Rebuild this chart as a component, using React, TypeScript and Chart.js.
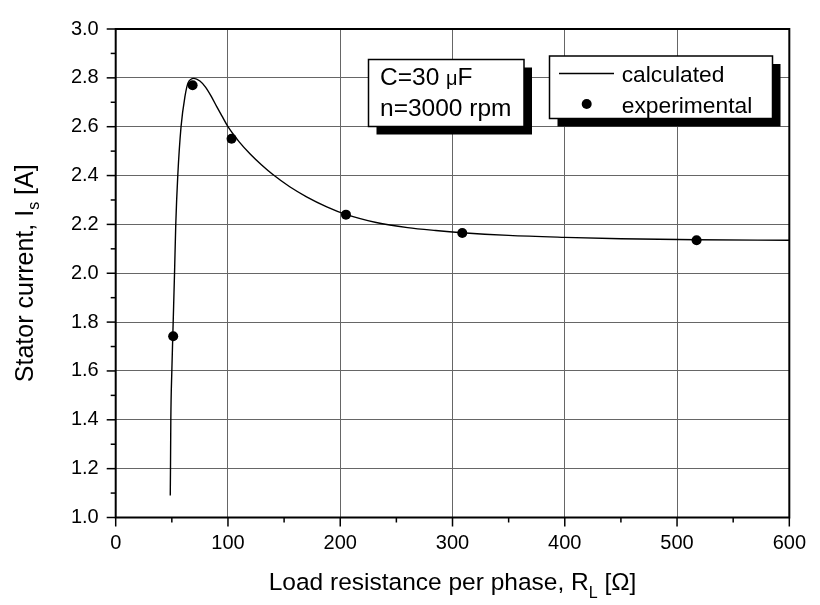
import React, { useEffect, useRef } from "react";
import { Chart, registerables } from "chart.js";

Chart.register(...registerables);

// ---- data ----
const calcR = [48.6, 48.8, 49.1, 50.0, 51.2, 52.4, 53.5, 55.3, 58.2, 61.7, 64.6, 69.7, 75, 80, 85, 90, 95, 100, 110, 120, 130, 140, 155, 170, 188, 205, 232, 260, 285, 308.5, 350, 400, 450, 518, 600];
const calcI = [1.09, 1.2, 1.4, 1.6, 1.8, 2.0, 2.2, 2.4, 2.6, 2.724, 2.781, 2.798, 2.787, 2.762, 2.725, 2.682, 2.641, 2.6, 2.538, 2.487, 2.443, 2.404, 2.354, 2.313, 2.272, 2.241, 2.208, 2.187, 2.175, 2.166, 2.155, 2.147, 2.141, 2.137, 2.135];
const expR = [51.2, 68.5, 103.2, 205.1, 308.7, 517.4];
const expI = [1.742, 2.77, 2.551, 2.24, 2.165, 2.135];
const legendLabels = ["calculated", "experimental"];
const noteLine1 = ["C=30 ", "\u03bc", "F"];
const noteLine2 = "n=3000 rpm";
const xTitleParts = ["Load resistance per phase, R", "L", " [\u03a9]"];
const yTitleParts = ["Stator current, I", "s", " [A]"];
const xMin = 0, xMax = 600, xStep = 100, xMinor = 50;
const yMin = 1.0, yMax = 3.0, yStep = 0.2, yMinor = 0.1;

const FONT = '"Liberation Sans", Arial, Helvetica, sans-serif';

type Run = { t: string; size: number; dy: number };

function drawRuns(ctx: CanvasRenderingContext2D, runs: Run[], x: number, y: number, align: "left" | "center") {
  let total = 0;
  const widths = runs.map((r) => {
    ctx.font = `${r.size}px ${FONT}`;
    const w = ctx.measureText(r.t).width;
    total += w;
    return w;
  });
  let cx = align === "center" ? x - total / 2 : x;
  ctx.textAlign = "left";
  ctx.textBaseline = "alphabetic";
  runs.forEach((r, i) => {
    ctx.font = `${r.size}px ${FONT}`;
    ctx.fillText(r.t, cx, y + r.dy);
    cx += widths[i];
  });
}

function shadowBox(ctx: CanvasRenderingContext2D, l: number, t: number, r: number, b: number) {
  ctx.fillStyle = "#000";
  ctx.fillRect(l + 8, t + 8, r - l, b - t);
  ctx.fillStyle = "#fff";
  ctx.fillRect(l, t, r - l, b - t);
  ctx.strokeStyle = "#000";
  ctx.lineWidth = 1.5;
  ctx.strokeRect(l, t, r - l, b - t);
}

const decorPlugin = {
  id: "decor",
  afterDraw(chart: any) {
    const { ctx, chartArea: a, scales } = chart;
    const xs = scales.x;
    const ys = scales.y;
    ctx.save();

    // frame
    ctx.strokeStyle = "#000";
    ctx.lineWidth = 2;
    ctx.strokeRect(a.left, a.top, a.right - a.left, a.bottom - a.top);

    // ticks (outward, major + minor)
    ctx.lineWidth = 1.5;
    const nY = Math.round((yMax - yMin) / yMinor);
    for (let i = 0; i <= nY; i++) {
      const v = yMin + i * yMinor;
      const py = ys.getPixelForValue(v);
      const len = i % 2 === 0 ? 9 : 5;
      ctx.beginPath();
      ctx.moveTo(a.left - len, py);
      ctx.lineTo(a.left, py);
      ctx.stroke();
    }
    const nX = Math.round((xMax - xMin) / xMinor);
    for (let i = 0; i <= nX; i++) {
      const v = xMin + i * xMinor;
      const px = xs.getPixelForValue(v);
      const len = i % 2 === 0 ? 9 : 5;
      ctx.beginPath();
      ctx.moveTo(px, a.bottom);
      ctx.lineTo(px, a.bottom + len);
      ctx.stroke();
    }

    // annotation box
    shadowBox(ctx, 368.5, 59.5, 524, 126.5);
    ctx.fillStyle = "#000";
    drawRuns(
      ctx,
      [
        { t: noteLine1[0], size: 24.5, dy: 0 },
        { t: noteLine1[1], size: 20, dy: 0 },
        { t: noteLine1[2], size: 24.5, dy: 0 },
      ],
      380,
      85,
      "left"
    );
    drawRuns(ctx, [{ t: noteLine2, size: 24.5, dy: 0 }], 380, 116, "left");

    // legend box
    shadowBox(ctx, 549.5, 56, 772.5, 118.5);
    ctx.strokeStyle = "#000";
    ctx.lineWidth = 1.5;
    ctx.beginPath();
    ctx.moveTo(559, 73.5);
    ctx.lineTo(614, 73.5);
    ctx.stroke();
    ctx.fillStyle = "#000";
    ctx.beginPath();
    ctx.arc(586.7, 104, 5, 0, Math.PI * 2);
    ctx.fill();
    drawRuns(ctx, [{ t: legendLabels[0], size: 22.8, dy: 0 }], 621.7, 82, "left");
    drawRuns(ctx, [{ t: legendLabels[1], size: 22.8, dy: 0 }], 621.7, 113, "left");

    // axis titles
    const cx = (a.left + a.right) / 2;
    drawRuns(
      ctx,
      [
        { t: xTitleParts[0], size: 24.5, dy: 0 },
        { t: xTitleParts[1], size: 16, dy: 8 },
        { t: xTitleParts[2], size: 24.5, dy: 0 },
      ],
      cx,
      590,
      "center"
    );
    const cy = (a.top + a.bottom) / 2;
    ctx.save();
    ctx.translate(33, cy);
    ctx.rotate(-Math.PI / 2);
    drawRuns(
      ctx,
      [
        { t: yTitleParts[0], size: 25, dy: 0 },
        { t: yTitleParts[1], size: 16, dy: 6 },
        { t: yTitleParts[2], size: 25, dy: 0 },
      ],
      0,
      0,
      "center"
    );
    ctx.restore();

    ctx.restore();
  },
};

export default function App() {
  const ref = useRef<HTMLCanvasElement | null>(null);

  useEffect(() => {
    document.body.style.margin = "0";
    const canvas = ref.current;
    if (!canvas) return;
    const chart = new Chart(canvas, {
      type: "scatter",
      data: {
        datasets: [
          {
            label: legendLabels[0],
            data: calcR.map((r, i) => ({ x: r, y: calcI[i] })),
            showLine: true,
            pointRadius: 0,
            borderColor: "#000",
            borderWidth: 1.4,
            cubicInterpolationMode: "monotone",
            fill: false,
          } as any,
          {
            label: legendLabels[1],
            data: expR.map((r, i) => ({ x: r, y: expI[i] })),
            showLine: false,
            pointRadius: 5,
            pointBackgroundColor: "#000",
            pointBorderWidth: 0,
            backgroundColor: "#000",
            borderColor: "#000",
          },
        ],
      },
      options: {
        responsive: false,
        animation: false,
        devicePixelRatio: 1,
        layout: { padding: { top: 15, right: 21, left: 0, bottom: 0 } },
        plugins: { legend: { display: false }, tooltip: { enabled: false } },
        scales: {
          x: {
            type: "linear",
            min: xMin,
            max: xMax,
            afterFit: (s: any) => {
              s.height = 87.5;
            },
            ticks: {
              stepSize: xStep,
              font: { family: FONT, size: 20 },
              color: "#000",
              padding: 14,
              maxRotation: 0,
              autoSkip: false,
            },
            grid: { color: "#666", lineWidth: 1, drawTicks: false },
            border: { display: false },
          },
          y: {
            type: "linear",
            min: yMin,
            max: yMax,
            afterFit: (s: any) => {
              s.width = 115.7;
            },
            ticks: {
              stepSize: yStep,
              font: { family: FONT, size: 20 },
              color: "#000",
              padding: 17,
              autoSkip: false,
              callback: (v: any) => Number(v).toFixed(1),
            },
            grid: { color: "#666", lineWidth: 1, drawTicks: false },
            border: { display: false },
          },
        },
      },
      plugins: [decorPlugin],
    });
    return () => chart.destroy();
  }, []);

  return (
    <div style={{ width: 820, height: 605, background: "#fff" }}>
      <canvas ref={ref} width={820} height={605} style={{ display: "block" }} />
    </div>
  );
}
